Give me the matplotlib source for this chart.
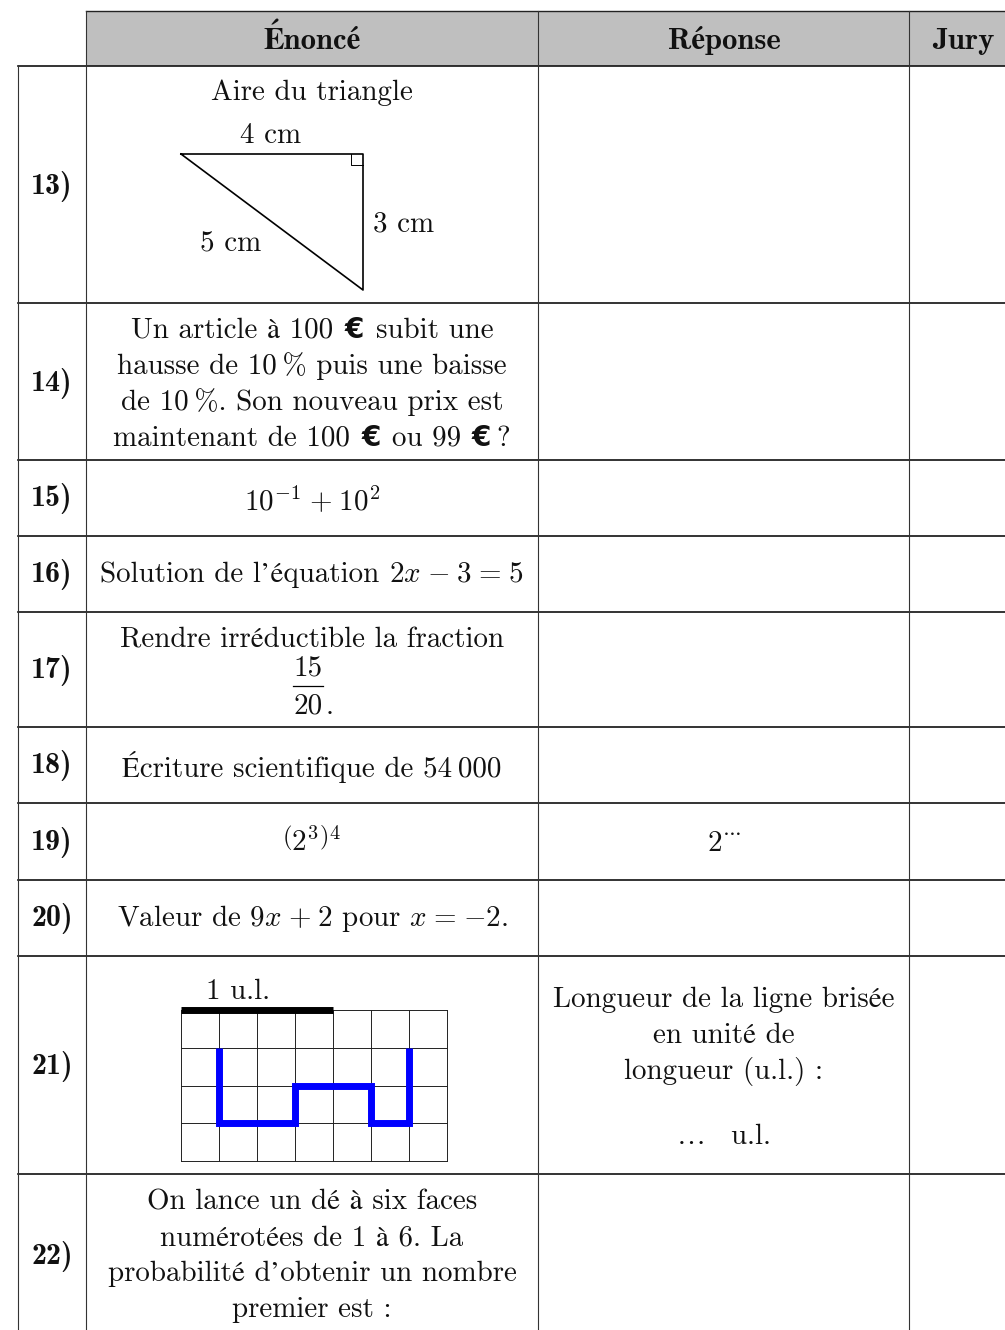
import matplotlib
matplotlib.use('Agg')
import matplotlib.pyplot as plt

plt.rcParams['mathtext.fontset'] = 'cm'
plt.rcParams['axes.unicode_minus'] = False

W, H = 1005, 1330
FS = 20.9
TXT = ['cmr10', 'STIXGeneral', 'DejaVu Serif']
BOLD = ['cmb10', 'STIXGeneral', 'DejaVu Serif']
SP = r'\hspace{0.08}'

# table layout (pixels)
col_edges = [18, 86, 538, 909]
row_edges = [66, 303, 460, 536, 612, 727, 803, 880, 956, 1174]
header_top = 11
col_centres = [312, 724, 963]
headers = ['Énoncé', 'Réponse', 'Jury']
numbers = ['13)', '14)', '15)', '16)', '17)', '18)', '19)', '20)', '21)', '22)']
number_base = [194, 391, 506, 582, 678, 773, 850, 926, 1074, 1264]

# figure 21
grid_cols = 7
grid_rows = 4
broken_x = [1, 1, 3, 3, 5, 5, 6, 6]
broken_y = [1, 3, 3, 2, 2, 3, 3, 1]

fig = plt.figure(figsize=(W / 100, H / 100), dpi=100)
ax = fig.add_axes([0, 0, 1, 1])
ax.set_xlim(0, W)
ax.set_ylim(H, 0)
ax.axis('off')


def put(x, y, s, ha='center', bold=False, size=FS):
    ax.text(x, y, s, ha=ha, va='baseline', fontsize=size, color='#111111',
            family=BOLD if bold else TXT, weight='bold' if bold else 'normal')


def euro(x, y):
    ax.text(x, y, '€', ha='center', va='baseline', fontsize=20, color='#111111',
            family='DejaVu Sans', weight='bold')


# header
ax.fill_between([col_edges[1], W], header_top, row_edges[0], color='#bfbfbf', lw=0)
for i, name in enumerate(headers):
    put(col_centres[i], 49, name, bold=True, size=22.2)

# lines
ax.plot([col_edges[1], W], [header_top, header_top], color='#222222', lw=1.0)
for y in row_edges:
    ax.plot([col_edges[0], W], [y, y], color='#111111', lw=1.2)
ax.plot([col_edges[0], col_edges[0]], [row_edges[0], H], color='#333333', lw=0.8)
for x in col_edges[1:]:
    ax.plot([x, x], [header_top, H], color='#333333', lw=0.8)

for n, y in zip(numbers, number_base):
    put(52, y, n, bold=True, size=21.6)

# 13
put(312, 100, 'Aire du triangle')
ax.plot([181, 363, 363, 181], [154, 154, 290, 154], color='black', lw=1.2)
ax.plot([351, 351, 363], [154, 165, 165], color='black', lw=0.7)
put(271, 143, '4 cm')
put(373, 231, '3 cm', ha='left')
put(231, 251, '5 cm')

# 14
put(131, 338, 'Un article à 100', ha='left')
euro(354, 338)
put(376, 338, 'subit une', ha='left')
put(312, 374, 'hausse de 10\u2009% puis une baisse')
put(312, 410, 'de 10\u2009%. Son nouveau prix est')
put(113, 446, 'maintenant de 100', ha='left')
euro(371, 446)
put(392, 446, 'ou 99', ha='left')
euro(481, 446)
put(496, 446, '?', ha='left')

put(312, 510, rf'$10^{{-1}}{SP}+{SP}10^{{2}}$')
put(100, 582, 'Solution de l’équation', ha='left')
put(389, 582, rf'$2x{SP}-{SP}3{SP}={SP}5$', ha='left')
put(312, 647, 'Rendre irréductible la fraction')
put(308, 675, '15')
ax.plot([293, 323], [686, 686], color='black', lw=0.9)
put(308, 714, '20')
put(326, 714, '.', ha='left')
put(312, 777, 'Écriture scientifique de 54\u2009000')
put(312, 851, r'$\left(2^{3}\right)^{4}$')
put(724, 851, r'$2^{\cdots}$')
put(312, 926, rf'Valeur de $9x{SP}+{SP}2$ pour $x{SP}={SP}{{-}}2$.')

# 21
put(238, 999, '1 u.l.')
gx, gy, cw, ch = 181, 1010, 38, 37.75
for i in range(grid_cols + 1):
    ax.plot([gx + i * cw] * 2, [gy, gy + grid_rows * ch], color='#222222', lw=0.7)
for j in range(grid_rows + 1):
    ax.plot([gx, gx + grid_cols * cw], [gy + j * ch] * 2, color='#222222', lw=0.7)
ax.plot([gx + v * cw for v in broken_x], [gy + v * ch for v in broken_y],
        color='#0000ff', lw=5, solid_capstyle='butt', solid_joinstyle='miter')
ax.plot([gx, gx + 4 * cw], [gy, gy], color='black', lw=5, solid_capstyle='butt')

for y, s in zip([1007, 1043, 1079], ['Longueur de la ligne brisée', 'en unité de', 'longueur (u.l.) :']):
    put(724, y, s)
put(723, 1144, r'$\ldots\hspace{0.25}$  u.l.')

# 22
for y, s in zip([1209, 1245, 1281, 1317],
                ['On lance un dé à six faces', 'numérotées de 1 à 6. La',
                 'probabilité d’obtenir un nombre', 'premier est :']):
    put(312, y, s)

fig.savefig('out.png', dpi=100)
